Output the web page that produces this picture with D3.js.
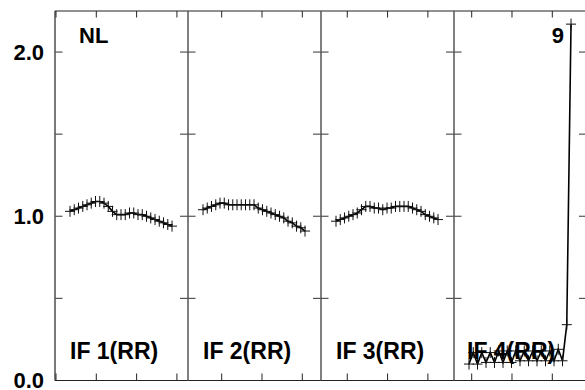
<!DOCTYPE html>
<html>
<head>
<meta charset="utf-8">
<script src="https://cdn.jsdelivr.net/npm/d3@7/dist/d3.min.js"></script>
<style>
  html, body { margin: 0; padding: 0; background: #fff; }
  svg { display: block; }
  text { font-family: "Liberation Sans", Arial, Helvetica, sans-serif; font-weight: bold; fill: #000; }
</style>
</head>
<body>
<svg id="chart" width="585" height="390"></svg>
<script>
// ---- data ----
const panelLabels = ["IF 1(RR)", "IF 2(RR)", "IF 3(RR)", "IF 4(RR)"];
const cornerLabels = ["NL", "9"];
const yTickValues = [0, 0.5, 1.0, 1.5, 2.0];
const yTickLabels = ["0.0", "", "1.0", "", "2.0"];
// x-domain start of each panel (ticks every 10 units)
const panelStarts = [9.75, 1.64, 3.48, 5.61];

const series1 = [1.03, 1.04, 1.05, 1.06, 1.07, 1.08, 1.09, 1.09, 1.08, 1.06, 1.03, 1.01, 1.01,
                 1.01, 1.02, 1.02, 1.01, 1.01, 1.00, 0.99, 0.98, 0.97, 0.96, 0.95, 0.94];
const series2 = [1.04, 1.05, 1.06, 1.07, 1.08, 1.08, 1.07, 1.07, 1.07, 1.07, 1.07, 1.07, 1.07,
                 1.05, 1.04, 1.03, 1.02, 1.01, 1.00, 0.99, 0.97, 0.96, 0.94, 0.93, 0.91];
const series3 = [0.97, 0.98, 0.99, 1.00, 1.01, 1.02, 1.04, 1.06, 1.06, 1.05, 1.05, 1.04, 1.05,
                 1.05, 1.06, 1.06, 1.06, 1.06, 1.05, 1.04, 1.03, 1.01, 1.00, 0.99, 0.98];
const series4 = [0.10, 0.17, 0.10, 0.17, 0.11, 0.17, 0.11, 0.18, 0.11, 0.18, 0.11, 0.18, 0.12,
                 0.18, 0.12, 0.18, 0.12, 0.18, 0.12, 0.18, 0.12, 0.19, 0.12, 0.34, 2.17];
const allSeries = [series1, series2, series3, series4];

// ---- layout ----
const svg = d3.select("#chart");
const mLeft = 55, mTop = 11, mBottom = 380.5, panelW = 133;
const nPanels = 4;

const y = d3.scaleLinear().domain([0, 2.25]).range([mBottom, mTop]);
const panelX = d3.scaleLinear().domain([0, nPanels]).range([mLeft, mLeft + nPanels * panelW]);
// index scale within a panel (relative pixel offset)
const idx = d3.scaleLinear().domain([-3.53, 27.76]).range([0, panelW]);

svg.append("line").attr("x1", mLeft).attr("x2", 585).attr("y1", mTop).attr("y2", mTop)
  .attr("stroke", "#222").attr("stroke-width", 1.2);
svg.append("line").attr("x1", mLeft).attr("x2", 585).attr("y1", mBottom).attr("y2", mBottom)
  .attr("stroke", "#222").attr("stroke-width", 1.2);

for (let p = 0; p < nPanels; p++) {
  const x0 = panelX(p);
  const g = svg.append("g");
  const xs = d3.scaleLinear().domain([panelStarts[p], panelStarts[p] + 33]).range([x0, x0 + panelW]);
  const xt = d3.range(Math.ceil(panelStarts[p] / 10) * 10, panelStarts[p] + 33, 10);
  g.selectAll(".xtt").data(xt).join("line")
    .attr("x1", d => xs(d)).attr("x2", d => xs(d))
    .attr("y1", mTop).attr("y2", mTop + 6.5)
    .attr("stroke", "#222").attr("stroke-width", 1);
  g.selectAll(".xtb").data(xt).join("line")
    .attr("x1", d => xs(d)).attr("x2", d => xs(d))
    .attr("y1", mBottom).attr("y2", mBottom - 7)
    .attr("stroke", "#222").attr("stroke-width", 1);

  g.append("line").attr("x1", x0).attr("x2", x0).attr("y1", mTop).attr("y2", mBottom)
    .attr("stroke", p === 0 ? "#222" : "#555").attr("stroke-width", p === 0 ? 1.2 : 1.5);

  g.selectAll(".yt").data(yTickValues.filter(v => v > 0)).join("line")
    .attr("x1", p === 0 ? x0 : x0 - 8).attr("x2", x0 + 7.5)
    .attr("y1", d => y(d)).attr("y2", d => y(d))
    .attr("stroke", "#555").attr("stroke-width", 1.2);

  const data = allSeries[p];
  const px = (d, i) => x0 + idx(i);
  const line = d3.line().x(px).y(d => y(d));
  g.append("path").datum(data).attr("d", line)
    .attr("fill", "none").attr("stroke", "#000").attr("stroke-width", 1.6);
  const ms = 5;
  g.selectAll(".mh").data(data).join("line")
    .attr("x1", (d, i) => px(d, i) - ms).attr("x2", (d, i) => px(d, i) + ms)
    .attr("y1", d => y(d)).attr("y2", d => y(d))
    .attr("stroke", "#111").attr("stroke-width", 1);
  g.selectAll(".mv").data(data).join("line")
    .attr("x1", (d, i) => px(d, i)).attr("x2", (d, i) => px(d, i))
    .attr("y1", d => y(d) - 5.5).attr("y2", d => y(d) + 5.5)
    .attr("stroke", "#111").attr("stroke-width", 1);

  g.append("text").attr("x", x0 + (p === 3 ? 13 : 15)).attr("y", 359)
    .attr("font-size", 23).text(panelLabels[p]);
}

const xr = panelX(nPanels);
svg.selectAll(".ytr").data(yTickValues.filter(v => v > 0)).join("line")
  .attr("x1", xr - 8).attr("x2", xr)
  .attr("y1", d => y(d)).attr("y2", d => y(d))
  .attr("stroke", "#555").attr("stroke-width", 1.2);

svg.selectAll(".yl").data(yTickValues).join("text")
  .attr("x", 44).attr("y", d => y(d)).attr("dy", "0.36em")
  .attr("text-anchor", "end").attr("font-size", 22)
  .text((d, i) => yTickLabels[i]);

svg.append("text").attr("x", 79).attr("y", 43).attr("font-size", 22).text(cornerLabels[0]);
svg.append("text").attr("x", 564).attr("y", 43).attr("text-anchor", "end").attr("font-size", 22).text(cornerLabels[1]);
</script>
</body>
</html>
